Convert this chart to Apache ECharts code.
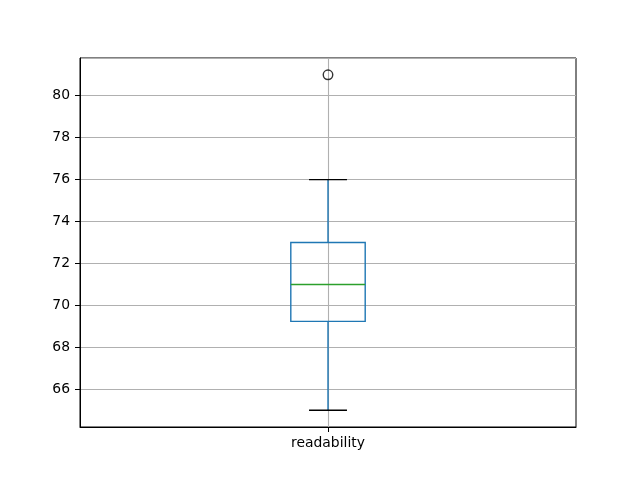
<!DOCTYPE html>
<html>
<head>
<meta charset="utf-8">
<script src="https://cdn.jsdelivr.net/npm/echarts@6/dist/echarts.min.js"></script>
<style>html,body{margin:0;padding:0;background:#fff;}#c{width:640px;height:480px;}</style>
</head>
<body>
<div id="c"></div>
<script>
var categories = ['readability'];
// [lower whisker, Q1, median, Q3, upper whisker]
var boxValues = [[65.0, 69.24, 71.0, 73.0, 76.0]];
var outliers = [['readability', 81.0]];
var yMin = 64.2, yMax = 81.8;

var chart = echarts.init(document.getElementById('c'), null, {renderer: 'canvas'});
var FONT = 'DejaVu Sans';
var boxData = boxValues.map(function (v, i) { return [i].concat(v); });

function renderBox(params, api) {
  var idx = api.value(0);
  var lo = api.coord([idx, api.value(1)]);
  var q1 = api.coord([idx, api.value(2)]);
  var med = api.coord([idx, api.value(3)]);
  var q3 = api.coord([idx, api.value(4)]);
  var hi = api.coord([idx, api.value(5)]);
  var band = api.size([1, 0])[0];
  var bw = band * 0.15;
  var cw = bw * 0.51;
  var cx = lo[0];
  var blue = '#1f77b4';
  var lw = 1.4;
  return {
    type: 'group',
    children: [
      {type: 'line', shape: {x1: cx, y1: q1[1], x2: cx, y2: lo[1]}, style: {stroke: blue, lineWidth: lw}},
      {type: 'line', shape: {x1: cx, y1: q3[1], x2: cx, y2: hi[1]}, style: {stroke: blue, lineWidth: lw}},
      {type: 'line', shape: {x1: cx - cw / 2, y1: lo[1], x2: cx + cw / 2, y2: lo[1]}, style: {stroke: '#000', lineWidth: lw}},
      {type: 'line', shape: {x1: cx - cw / 2, y1: hi[1], x2: cx + cw / 2, y2: hi[1]}, style: {stroke: '#000', lineWidth: lw}},
      {type: 'rect', shape: {x: cx - bw / 2, y: q3[1], width: bw, height: q1[1] - q3[1]}, style: {stroke: blue, fill: 'none', lineWidth: lw}},
      {type: 'line', shape: {x1: cx - bw / 2, y1: med[1], x2: cx + bw / 2, y2: med[1]}, style: {stroke: '#2ca02c', lineWidth: lw}}
    ]
  };
}

chart.setOption({
  animation: false,
  backgroundColor: '#fff',
  grid: {left: 80, right: 64, top: 58, bottom: 53, show: true, borderColor: '#000', borderWidth: 1, backgroundColor: 'transparent'},
  xAxis: {
    type: 'category',
    data: categories,
    boundaryGap: true,
    axisLine: {show: true, lineStyle: {color: '#000', width: 1}},
    axisTick: {show: true, alignWithLabel: true, length: 5, lineStyle: {color: '#000', width: 1}},
    axisLabel: {color: '#000', fontFamily: FONT, fontSize: 13.9, margin: 9},
    splitLine: {show: false}
  },
  yAxis: {
    type: 'value',
    min: yMin,
    max: yMax,
    splitNumber: 9,
    axisLine: {show: true, lineStyle: {color: '#000', width: 1}},
    axisTick: {show: true, length: 5, lineStyle: {color: '#000', width: 1}},
    axisLabel: {color: '#000', fontFamily: FONT, fontSize: 13.9, margin: 10, showMinLabel: false, showMaxLabel: false},
    splitLine: {show: true, lineStyle: {color: '#b0b0b0', width: 1.1}}
  },
  series: [
    {
      type: 'custom',
      renderItem: renderBox,
      data: boxData,
      encode: {x: 0, y: [1, 2, 3, 4, 5]},
      z: 3,
      markLine: {
        silent: true,
        symbol: ['none', 'none'],
        label: {show: false},
        lineStyle: {color: '#b0b0b0', width: 1.1, type: 'solid'},
        z: 1,
        data: [{xAxis: categories[0]}]
      }
    },
    {
      type: 'scatter',
      data: outliers,
      symbol: 'circle',
      symbolSize: 9.5,
      itemStyle: {color: 'rgba(0,0,0,0)', borderColor: '#000', borderWidth: 1.4},
      z: 4
    }
  ]
});
</script>
</body>
</html>
